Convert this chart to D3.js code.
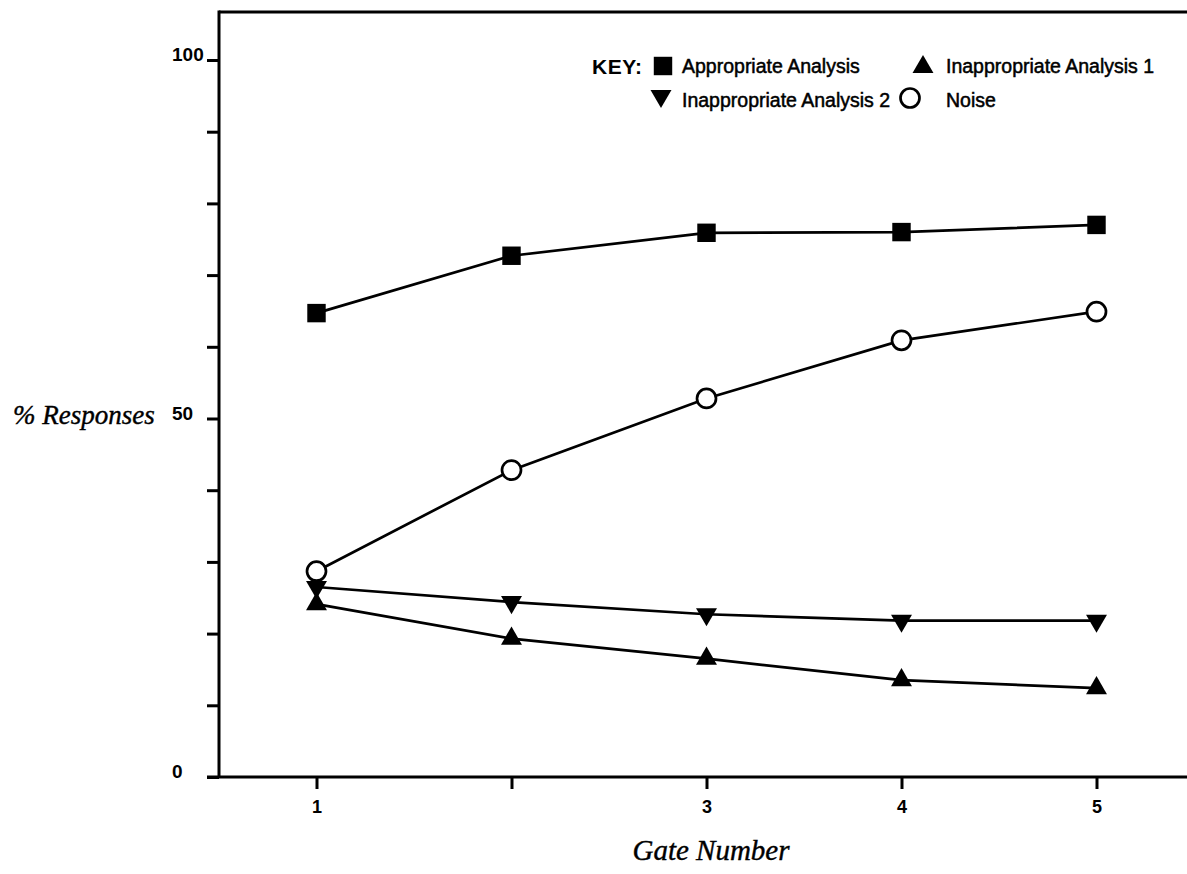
<!DOCTYPE html>
<html>
<head>
<meta charset="utf-8">
<script src="https://cdn.jsdelivr.net/npm/d3@7"></script>
<style>
  html, body { margin: 0; padding: 0; background: #fff; }
  svg { display: block; }
</style>
</head>
<body>
<svg id="chart" width="1187" height="874"></svg>
<script>
// ---- data ----
const gates = [1, 2, 3, 4, 5];
const gateTickLabels = ["1", "", "3", "4", "5"];
const yTickValues = [0, 10, 20, 30, 40, 50, 60, 70, 80, 90, 100];
const yTickLabels = ["0", "", "", "", "", "50", "", "", "", "", "100"];
const appropriateAnalysis = [64.7, 72.7, 75.9, 76.0, 77.0];
const inappropriateAnalysis1 = [24.1, 19.3, 16.5, 13.5, 12.4];
const inappropriateAnalysis2 = [26.5, 24.4, 22.7, 21.8, 21.8];
const noise = [28.7, 42.8, 52.8, 60.9, 64.9];
const seriesNames = ["Appropriate Analysis", "Inappropriate Analysis 1", "Inappropriate Analysis 2", "Noise"];

// ---- setup ----
const svg = d3.select("#chart");
const x = d3.scaleLinear().domain([0.5, 5.5]).range([219, 1194]);
const y = d3.scaleLinear().domain([0, 100]).range([777, 60]);
const yTop = 106.7;

const sans = "'Liberation Sans', Arial, Helvetica, sans-serif";
const serif = "'Liberation Serif', 'Times New Roman', serif";

// frame top line
svg.append("line")
  .attr("x1", x(0.5)).attr("x2", 1187)
  .attr("y1", y(yTop)).attr("y2", y(yTop))
  .attr("stroke", "#000").attr("stroke-width", 3);

// y axis
const yAxis = d3.axisLeft(y)
  .tickValues(yTickValues)
  .tickSize(12)
  .tickFormat((d, i) => yTickLabels[i]);
const gy = svg.append("g").attr("transform", `translate(${x(0.5)},0)`).call(yAxis);
gy.select(".domain").remove();
gy.selectAll(".tick line").attr("stroke", "#000").attr("stroke-width", 3);
gy.selectAll(".tick text")
  .attr("x", 172 - 219)
  .attr("dy", "0.05em")
  .attr("text-anchor", "start")
  .style("font-family", sans)
  .style("font-weight", "bold")
  .style("font-size", "19px")
  .attr("fill", "#000");
svg.append("line")
  .attr("x1", x(0.5)).attr("x2", x(0.5))
  .attr("y1", y(yTop) - 1.5).attr("y2", y(0))
  .attr("stroke", "#000").attr("stroke-width", 3);

// x axis
const xAxis = d3.axisBottom(x)
  .tickValues(gates)
  .tickSize(12)
  .tickPadding(11)
  .tickFormat((d, i) => gateTickLabels[i]);
const gx = svg.append("g").attr("transform", `translate(0,${y(0)})`).call(xAxis);
gx.select(".domain").remove();
gx.selectAll(".tick line").attr("stroke", "#000").attr("stroke-width", 3);
gx.selectAll(".tick text")
  .style("font-family", sans)
  .style("font-weight", "bold")
  .style("font-size", "18px")
  .attr("fill", "#000");
svg.append("line")
  .attr("x1", 207).attr("x2", 1187)
  .attr("y1", y(0)).attr("y2", y(0))
  .attr("stroke", "#000").attr("stroke-width", 3);

// axis titles
svg.append("text")
  .attr("x", 13).attr("y", 424)
  .style("font-family", serif)
  .style("font-style", "italic")
  .style("font-size", "27px")
  .attr("stroke", "#000").attr("stroke-width", 0.4)
  .text("% Responses");
svg.append("text")
  .attr("x", 711).attr("y", 860)
  .attr("text-anchor", "middle")
  .style("font-family", serif)
  .style("font-style", "italic")
  .style("font-size", "29px")
  .attr("stroke", "#000").attr("stroke-width", 0.4)
  .text("Gate Number");

// ---- series ----
const squareSym = d3.symbol().type(d3.symbolSquare).size(340);
const triSym = d3.symbol().type(d3.symbolTriangle).size(190);
const circleR = 9.5;

const series = [
  { name: seriesNames[0], values: appropriateAnalysis, kind: "square" },
  { name: seriesNames[2], values: inappropriateAnalysis2, kind: "down" },
  { name: seriesNames[1], values: inappropriateAnalysis1, kind: "up" },
  { name: seriesNames[3], values: noise, kind: "circle" }
];

const line = d3.line().x((d, i) => x(gates[i])).y(d => y(d));

series.forEach(s => {
  svg.append("path")
    .attr("d", line(s.values))
    .attr("fill", "none")
    .attr("stroke", "#000")
    .attr("stroke-width", 2.7);
});

function drawMarker(g, kind, cx, cy) {
  if (kind === "square") {
    g.append("path").attr("d", squareSym()).attr("transform", `translate(${cx},${cy})`).attr("fill", "#000");
  } else if (kind === "up") {
    g.append("path").attr("d", triSym()).attr("transform", `translate(${cx},${cy})`).attr("fill", "#000");
  } else if (kind === "down") {
    g.append("path").attr("d", triSym()).attr("transform", `translate(${cx},${cy}) rotate(180)`).attr("fill", "#000");
  } else {
    g.append("circle").attr("cx", cx).attr("cy", cy).attr("r", circleR)
      .attr("fill", "#fff").attr("stroke", "#000").attr("stroke-width", 2.7);
  }
}

const gm = svg.append("g");
series.forEach(s => {
  s.values.forEach((v, i) => drawMarker(gm, s.kind, x(gates[i]), y(v)));
});

// ---- legend ----
const lg = svg.append("g").style("font-family", sans).style("font-size", "19.5px");
lg.append("text").attr("x", 592).attr("y", 74)
  .style("font-weight", "bold").style("font-size", "21px").style("letter-spacing", "0.5px")
  .text("KEY:");
drawMarker(lg, "square", 663, 66);
lg.append("text").attr("x", 682).attr("y", 73).attr("stroke", "#000").attr("stroke-width", 0.5).text(seriesNames[0]);
drawMarker(lg, "up", 923, 67);
lg.append("text").attr("x", 946).attr("y", 73).attr("stroke", "#000").attr("stroke-width", 0.5).text(seriesNames[1]);
drawMarker(lg, "down", 661, 96);
lg.append("text").attr("x", 682).attr("y", 107).attr("stroke", "#000").attr("stroke-width", 0.5).text(seriesNames[2]);
drawMarker(lg, "circle", 910, 98);
lg.append("text").attr("x", 946).attr("y", 107).attr("stroke", "#000").attr("stroke-width", 0.5).text(seriesNames[3]);
</script>
</body>
</html>
